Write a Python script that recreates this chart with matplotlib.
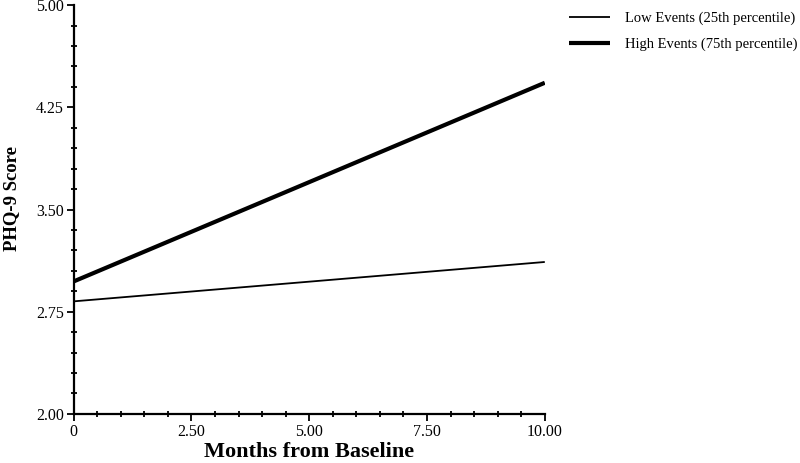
import numpy as np
import matplotlib
matplotlib.use("Agg")
import matplotlib.pyplot as plt
from matplotlib.ticker import MultipleLocator, FixedLocator

# values
months = [0, 10]
low_events = [2.826, 3.115]
high_events = [2.972, 4.43]
x_ticks = [0, 2.5, 5.0, 7.5, 10.0]
x_ticklabels = ["0", "2.50", "5.00", "7.50", "10.00"]
y_ticks = [2.00, 2.75, 3.50, 4.25, 5.00]
y_ticklabels = ["2.00", "2.75", "3.50", "4.25", "5.00"]

plt.rcParams['font.family'] = ['Liberation Serif', 'DejaVu Serif']

fig = plt.figure(figsize=(8, 4.63), dpi=100)
ax = fig.add_axes([0.092, 0.106, 0.589, 0.883])

ax.plot(months, low_events, color="black", lw=1.3,
        label="Low Events (25th percentile)", solid_capstyle="butt")
ax.plot(months, high_events, color="black", lw=3.0,
        label="High Events (75th percentile)", solid_capstyle="butt")

ax.set_xlim(0, 10)
ax.set_ylim(2, 5)
ax.set_xticks(x_ticks)
ax.set_xticklabels(x_ticklabels)
ax.set_yticks(y_ticks)
ax.set_yticklabels(y_ticklabels)
ax.xaxis.set_minor_locator(MultipleLocator(0.5))
ax.yaxis.set_minor_locator(FixedLocator(np.arange(2.0, 5.001, 0.15)))

for side in ["top", "right"]:
    ax.spines[side].set_visible(False)
for side in ["left", "bottom"]:
    ax.spines[side].set_linewidth(1.6)

ax.tick_params(which="major", direction="out", length=5, width=1.3,
               labelsize=11.5, pad=2)
ax.tick_params(which="minor", direction="inout", length=5, width=1.3)

ax.set_xlabel("Months from Baseline", fontsize=16, fontweight="bold")
ax.set_ylabel("PHQ-9 Score", fontsize=13.5, fontweight="bold")
ax.xaxis.set_label_coords(0.5, -0.068)
ax.yaxis.set_label_coords(-0.114, 0.526)

ax.legend(loc="upper left", bbox_to_anchor=(0.695, 1.003),
          bbox_transform=fig.transFigure, frameon=False, fontsize=10.5,
          handlelength=2.8, handletextpad=1.0, labelspacing=0.85)

fig.savefig("out.png", dpi=100)
